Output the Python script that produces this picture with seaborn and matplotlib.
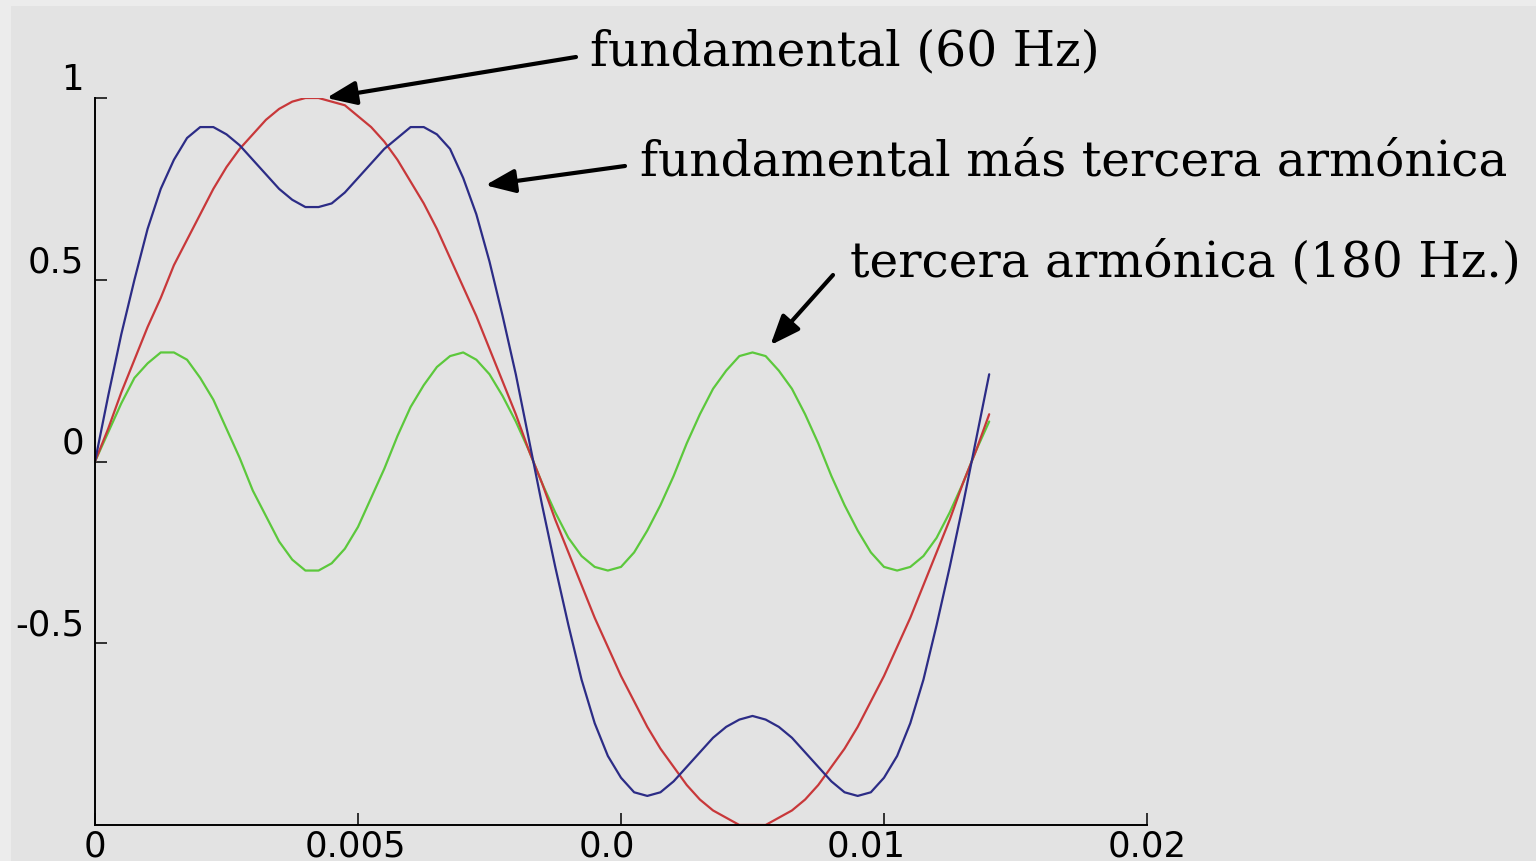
import numpy as np
import pandas as pd
import matplotlib
matplotlib.use("Agg")
import matplotlib.pyplot as plt
import matplotlib.transforms as mtransforms
from matplotlib.patches import Rectangle
import seaborn as sns

# ---- data ----
time_s = [round(i * 0.00025, 5) for i in range(69)]

fundamental = [0.00, 0.09, 0.19, 0.28, 0.37, 0.45, 0.54, 0.61, 0.68, 0.75,
               0.81, 0.86, 0.90, 0.94, 0.97, 0.99, 1.00, 1.00, 0.99, 0.98,
               0.95, 0.92, 0.88, 0.83, 0.77, 0.71, 0.64, 0.56, 0.48, 0.40,
               0.31, 0.22, 0.13, 0.03, -0.06, -0.16, -0.25, -0.34, -0.43, -0.51,
               -0.59, -0.66, -0.73, -0.79, -0.84, -0.89, -0.93, -0.96, -0.98, -1.00,
               -1.00, -1.00, -0.98, -0.96, -0.93, -0.89, -0.84, -0.79, -0.73, -0.66,
               -0.59, -0.51, -0.43, -0.34, -0.25, -0.16, -0.06, 0.03, 0.13]

third_harmonic = [0.00, 0.08, 0.16, 0.23, 0.27, 0.30, 0.30, 0.28, 0.23, 0.17,
                  0.09, 0.01, -0.08, -0.15, -0.22, -0.27, -0.30, -0.30, -0.28, -0.24,
                  -0.18, -0.10, -0.02, 0.07, 0.15, 0.21, 0.26, 0.29, 0.30, 0.28,
                  0.24, 0.18, 0.11, 0.03, -0.06, -0.14, -0.21, -0.26, -0.29, -0.30,
                  -0.29, -0.25, -0.19, -0.12, -0.04, 0.05, 0.13, 0.20, 0.25, 0.29,
                  0.30, 0.29, 0.25, 0.20, 0.13, 0.05, -0.04, -0.12, -0.19, -0.25,
                  -0.29, -0.30, -0.29, -0.26, -0.21, -0.14, -0.06, 0.03, 0.11]

combined = [0.00, 0.18, 0.35, 0.50, 0.64, 0.75, 0.83, 0.89, 0.92, 0.92,
            0.90, 0.87, 0.83, 0.79, 0.75, 0.72, 0.70, 0.70, 0.71, 0.74,
            0.78, 0.82, 0.86, 0.89, 0.92, 0.92, 0.90, 0.86, 0.78, 0.68,
            0.55, 0.40, 0.24, 0.06, -0.12, -0.29, -0.45, -0.60, -0.72, -0.81,
            -0.87, -0.91, -0.92, -0.91, -0.88, -0.84, -0.80, -0.76, -0.73, -0.71,
            -0.70, -0.71, -0.73, -0.76, -0.80, -0.84, -0.88, -0.91, -0.92, -0.91,
            -0.87, -0.81, -0.72, -0.60, -0.45, -0.29, -0.12, 0.06, 0.24]

x_ticks = [0, 0.005, 0.01, 0.015, 0.02]
x_tick_labels = ["0", "0.005", "0.0", "0.01", "0.02"]
y_ticks = [-0.5, 0, 0.5, 1]
y_tick_labels = ["-0.5", "0", "0.5", "1"]

label_fund = "fundamental (60 Hz)"
label_comb = "fundamental más tercera armónica"
label_third = "tercera armónica (180 Hz.)"

# ---- figure ----
sns.set_theme(style="white")
plt.rcParams["font.family"] = ["DejaVu Sans"]

W, H = 1536, 861
fig = plt.figure(figsize=(W / 100, H / 100), dpi=100, facecolor="#ececec")
fig.patches.append(Rectangle((11 / W, 0), 1 - 11 / W, (H - 6) / H,
                             transform=fig.transFigure, facecolor="#e3e3e3",
                             edgecolor="none", zorder=-10))

ax = fig.add_axes([95 / W, 36 / H, (1147 - 95) / W, (825 - 98) / H])
ax.set_facecolor("none")

df = pd.DataFrame({"t": time_s, "fund": fundamental,
                   "third": third_harmonic, "comb": combined})
sns.lineplot(data=df, x="t", y="third", ax=ax, color="#5cc83c", linewidth=1.6)
sns.lineplot(data=df, x="t", y="fund", ax=ax, color="#c8383a", linewidth=1.6)
sns.lineplot(data=df, x="t", y="comb", ax=ax, color="#2c2c86", linewidth=1.6)

ax.set_xlim(0, 0.02)
ax.set_ylim(-1, 1)
ax.set_xlabel("")
ax.set_ylabel("")
for s in ["top", "right"]:
    ax.spines[s].set_visible(False)
for s in ["left", "bottom"]:
    ax.spines[s].set_color("black")
    ax.spines[s].set_linewidth(1.4)

ax.set_xticks(x_ticks)
ax.set_xticklabels(x_tick_labels)
ax.set_yticks(y_ticks)
ax.set_yticklabels(y_tick_labels)
ax.tick_params(axis="both", direction="in", length=8.5, width=1.1,
               color="black", labelsize=25.5, labelcolor="black")
ax.tick_params(axis="y", pad=8, left=True)
ax.tick_params(axis="x", pad=3, bottom=True)

# shift y labels upward, x labels slightly as in reference
for lab in ax.get_yticklabels():
    lab.set_transform(lab.get_transform() +
                      mtransforms.ScaledTranslation(0, 21 / 100, fig.dpi_scale_trans))
x_shift = [0, -3, -14, -18, 0]
for lab, dx in zip(ax.get_xticklabels(), x_shift):
    lab.set_transform(lab.get_transform() +
                      mtransforms.ScaledTranslation(dx / 100, 0, fig.dpi_scale_trans))

# ---- annotations ----
serif = "DejaVu Serif"
fs = 35
fig.text(590 / W, 1 - 52 / H, label_fund, family=serif, fontsize=fs,
         ha="left", va="center", color="black")
fig.text(640 / W, 1 - 162 / H, label_comb, family=serif, fontsize=fs,
         ha="left", va="center", color="black")
fig.text(850 / W, 1 - 263 / H, label_third, family=serif, fontsize=fs,
         ha="left", va="center", color="black")

arrow_kw = dict(arrowstyle="-|>,head_length=1.5,head_width=0.6",
                color="black", lw=3, shrinkA=0, shrinkB=0)
ax.annotate("", xy=(0.0044, 1.0), xycoords="data",
            xytext=(576, H - 57), textcoords="figure pixels", arrowprops=arrow_kw)
ax.annotate("", xy=(0.00742, 0.76), xycoords="data",
            xytext=(625, H - 166), textcoords="figure pixels", arrowprops=arrow_kw)
ax.annotate("", xy=(0.01284, 0.32), xycoords="data",
            xytext=(833, H - 275), textcoords="figure pixels", arrowprops=arrow_kw)

fig.savefig("out.png", dpi=100, facecolor=fig.get_facecolor())
